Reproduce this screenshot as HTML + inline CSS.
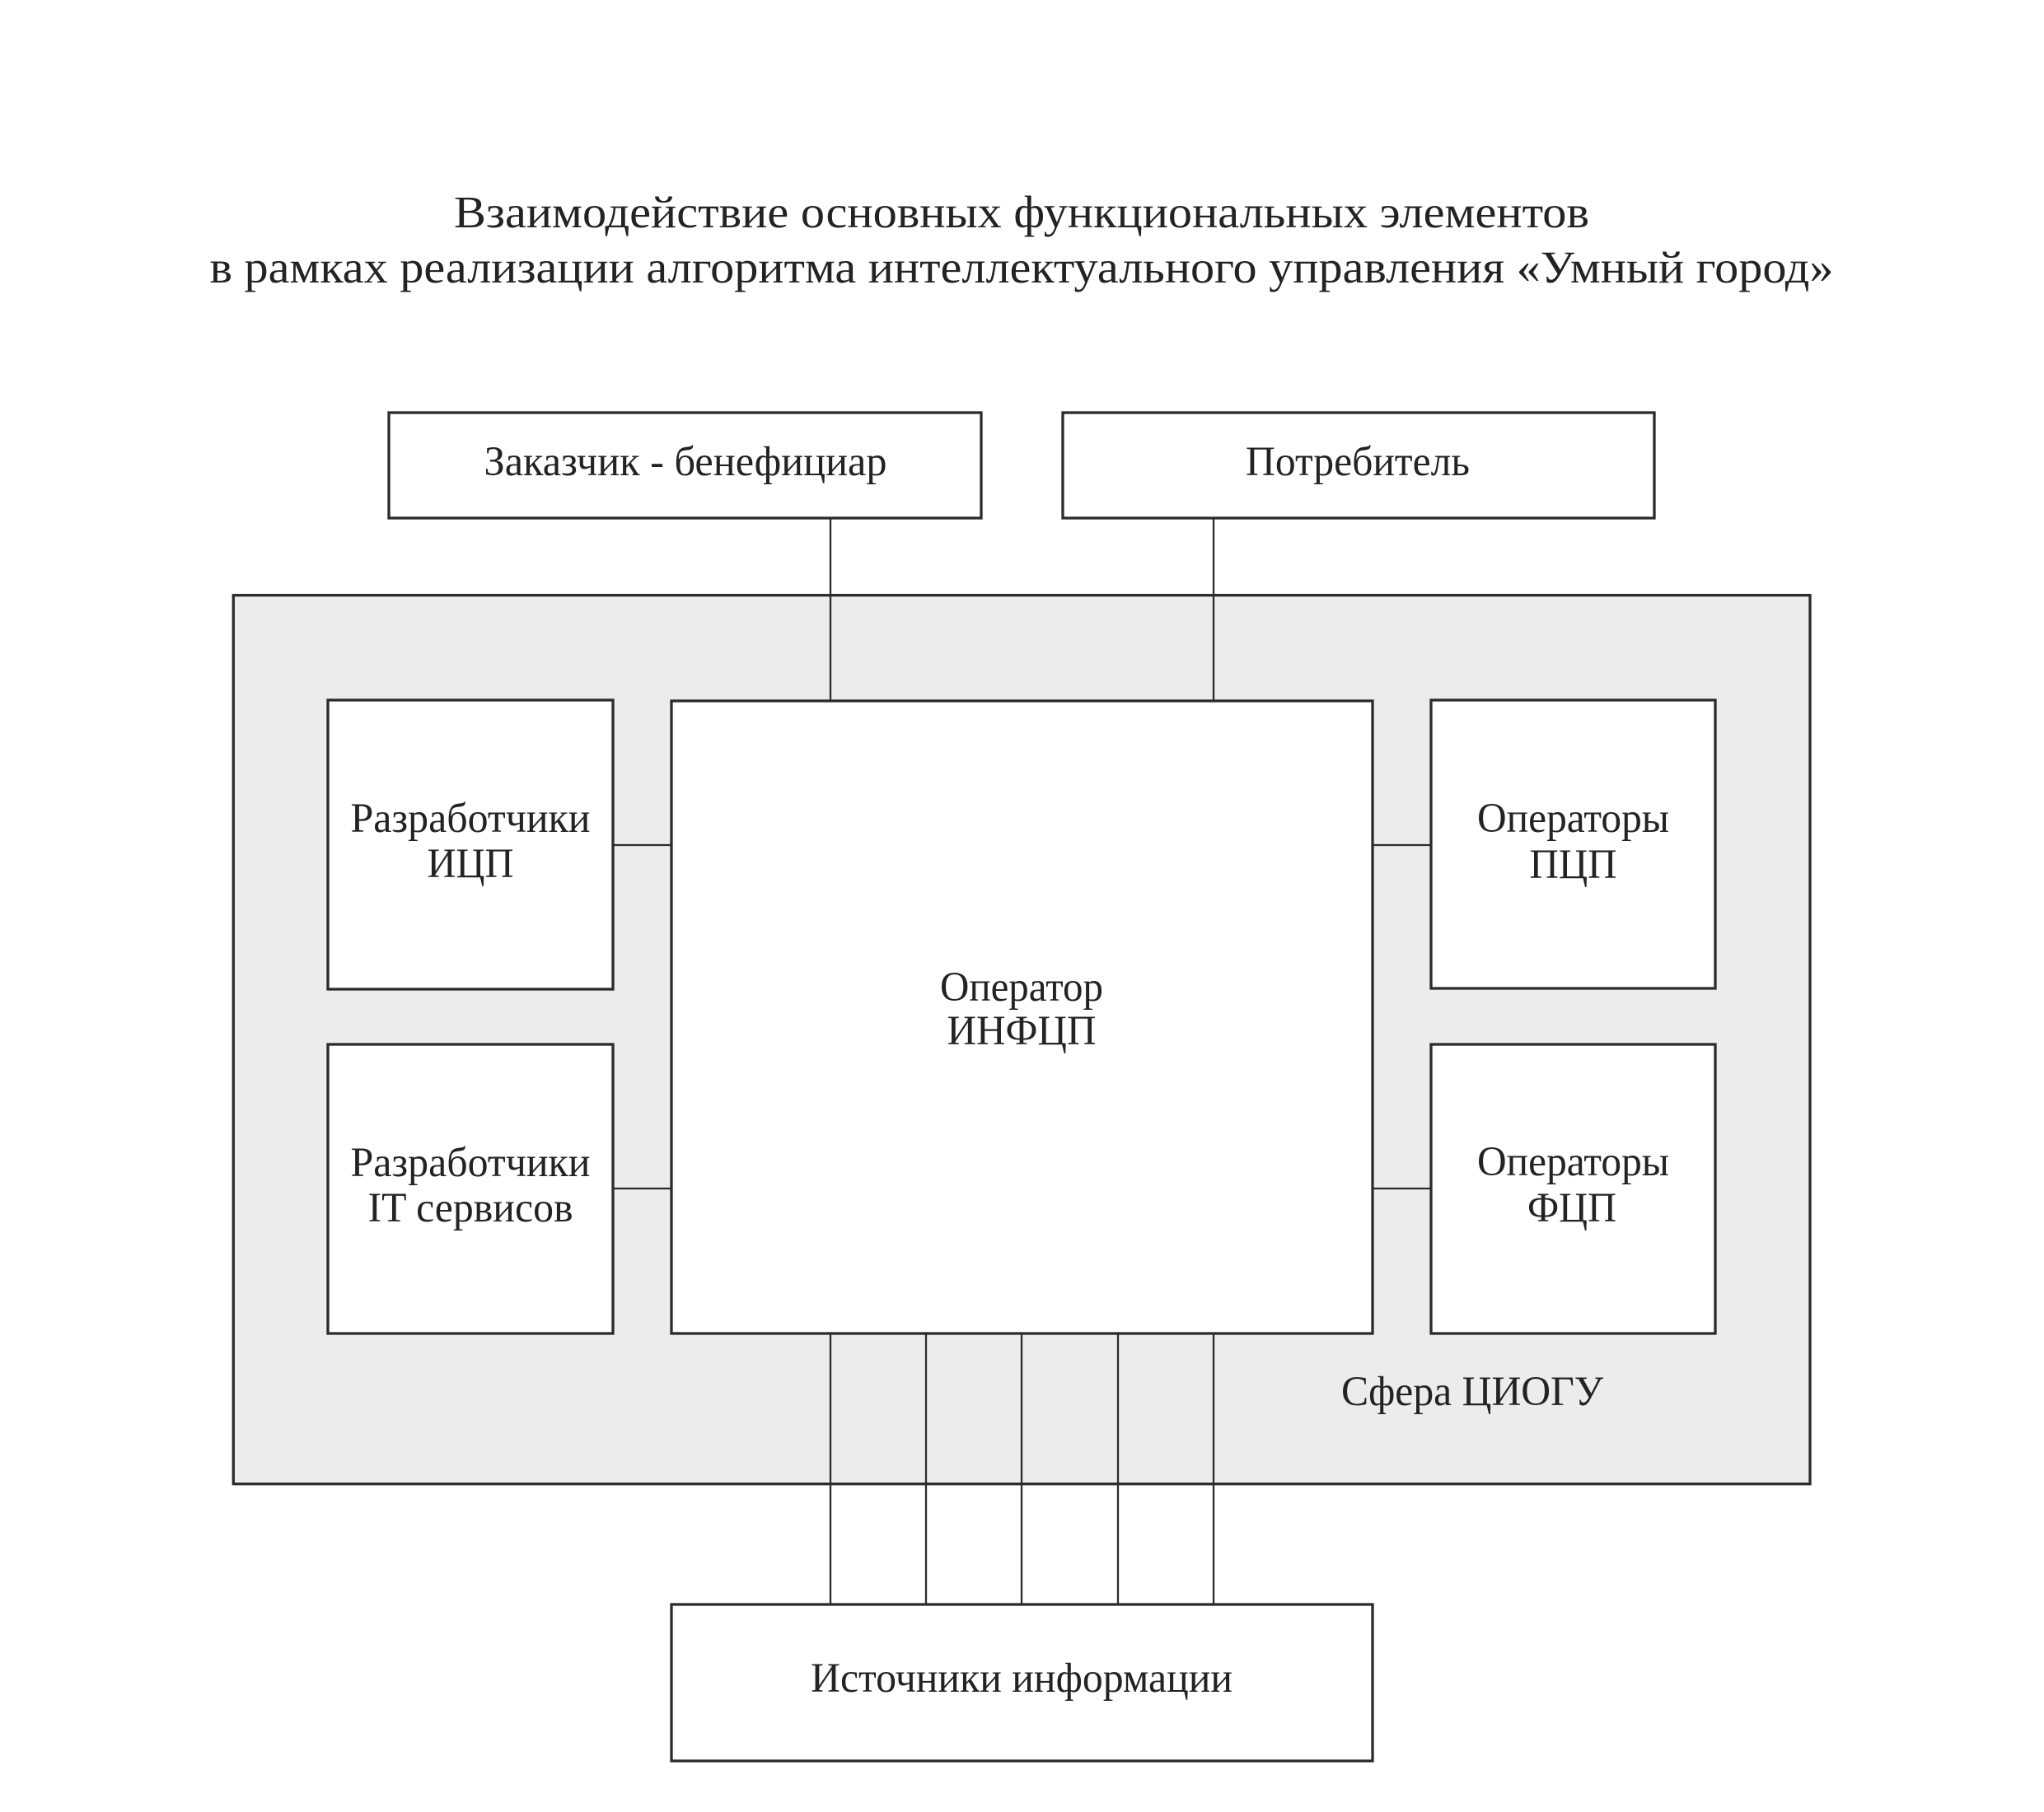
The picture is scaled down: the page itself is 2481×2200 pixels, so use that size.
<!DOCTYPE html>
<html>
<head>
<meta charset="utf-8">
<style>
html,body{margin:0;padding:0;background:#fff;}
svg{display:block;}
text{font-family:"Liberation Serif","DejaVu Serif",serif;fill:#232323;}
</style>
</head>
<body>
<svg width="2481" height="2200" viewBox="0 0 2481 2200" xmlns="http://www.w3.org/2000/svg">
<rect x="0" y="0" width="2481" height="2200" fill="#ffffff"/>

<!-- Title -->
<text x="1240" y="276" font-size="55" text-anchor="middle" textLength="1378" lengthAdjust="spacingAndGlyphs">Взаимодействие основных функциональных элементов</text>
<text x="1240" y="343" font-size="55" text-anchor="middle" textLength="1971" lengthAdjust="spacingAndGlyphs">в рамках реализации алгоритма интеллектуального управления «Умный город»</text>

<!-- Outer sphere -->
<rect x="283.3" y="722.7" width="1913.7" height="1079" fill="#ebeceb" stroke="#2b2b2b" stroke-width="3.3"/>

<!-- Connectors -->
<g stroke="#2b2b2b" stroke-width="2.3" fill="none">
  <line x1="1008" y1="629" x2="1008" y2="851"/>
  <line x1="1473" y1="629" x2="1473" y2="851"/>
  <line x1="744" y1="1026" x2="815" y2="1026"/>
  <line x1="1666" y1="1026" x2="1737" y2="1026"/>
  <line x1="744" y1="1443" x2="815" y2="1443"/>
  <line x1="1666" y1="1443" x2="1737" y2="1443"/>
  <line x1="1008" y1="1619" x2="1008" y2="1948"/>
  <line x1="1124" y1="1619" x2="1124" y2="1948"/>
  <line x1="1240" y1="1619" x2="1240" y2="1948"/>
  <line x1="1357" y1="1619" x2="1357" y2="1948"/>
  <line x1="1473" y1="1619" x2="1473" y2="1948"/>
</g>

<!-- Boxes -->
<g fill="#ffffff" stroke="#2b2b2b" stroke-width="3.3">
  <rect x="472" y="501" width="719" height="128"/>
  <rect x="1290" y="501" width="718" height="128"/>
  <rect x="398" y="850" width="346" height="351"/>
  <rect x="398" y="1268" width="346" height="351"/>
  <rect x="815" y="851" width="851" height="768"/>
  <rect x="1737" y="850" width="345" height="350"/>
  <rect x="1737" y="1268" width="345" height="351"/>
  <rect x="815" y="1948" width="851" height="190"/>
</g>

<!-- Labels -->
<g font-size="51" text-anchor="middle">
  <text x="832" y="577" textLength="489" lengthAdjust="spacingAndGlyphs">Заказчик - бенефициар</text>
  <text x="1648" y="577" textLength="272" lengthAdjust="spacingAndGlyphs">Потребитель</text>

  <text x="571" y="1010" textLength="291" lengthAdjust="spacingAndGlyphs">Разработчики</text>
  <text x="571" y="1065" textLength="105" lengthAdjust="spacingAndGlyphs">ИЦП</text>

  <text x="571" y="1428" textLength="291" lengthAdjust="spacingAndGlyphs">Разработчики</text>
  <text x="571" y="1483" textLength="249" lengthAdjust="spacingAndGlyphs">IT сервисов</text>

  <text x="1240" y="1215" textLength="198" lengthAdjust="spacingAndGlyphs">Оператор</text>
  <text x="1240" y="1268" textLength="181" lengthAdjust="spacingAndGlyphs">ИНФЦП</text>

  <text x="1909.5" y="1010" textLength="233" lengthAdjust="spacingAndGlyphs">Операторы</text>
  <text x="1909.5" y="1066" textLength="106" lengthAdjust="spacingAndGlyphs">ПЦП</text>

  <text x="1909.5" y="1427" textLength="233" lengthAdjust="spacingAndGlyphs">Операторы</text>
  <text x="1908" y="1483" textLength="108" lengthAdjust="spacingAndGlyphs">ФЦП</text>

  <text x="1787" y="1706" textLength="318" lengthAdjust="spacingAndGlyphs">Сфера ЦИОГУ</text>

  <text x="1240" y="2054" textLength="512" lengthAdjust="spacingAndGlyphs">Источники информации</text>
</g>
</svg>
</body>
</html>
